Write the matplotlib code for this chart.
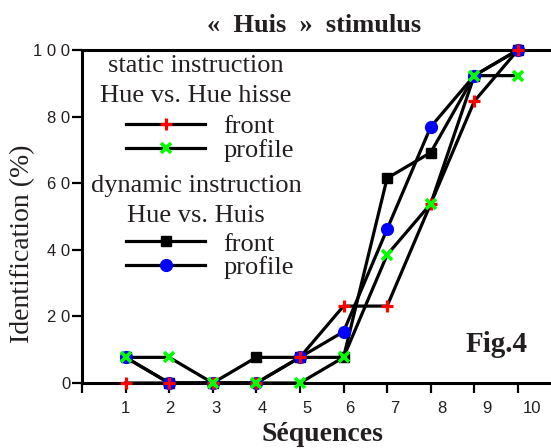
import matplotlib
matplotlib.use("Agg")
import matplotlib.pyplot as plt
from matplotlib.legend_handler import HandlerTuple
from matplotlib.transforms import ScaledTranslation

# data (identification %)
seq = [1, 2, 3, 4, 5, 6, 7, 8, 9, 10]
static_front = [0, 0, 0, 0, 7.7, 23.1, 23.1, 53.8, 84.6, 100]
static_profile = [7.7, 7.7, 0, 0, 0, 7.7, 38.5, 53.8, 92.3, 92.3]
dynamic_front = [7.7, 0, 0, 7.7, 7.7, 7.7, 61.5, 69.2, 92.3, 100]
dynamic_profile = [7.7, 0, 0, 0, 7.7, 15.4, 46.2, 76.9, 92.3, 100]

yticks = [0, 20, 40, 60, 80, 100]
ytick_labels = ["0", "2 0", "4 0", "6 0", "8 0", "1 0 0"]

serif = "Liberation Serif"
sans = "Liberation Sans"
ink = "#231f20"

fig = plt.figure(figsize=(5.51, 4.48), dpi=100)
ax = fig.add_axes([82 / 551, 1 - 383 / 448, 469 / 551, 333 / 448])

lw = 2.3
# lines first, then markers on top (black, blue, red, green)
ax.plot(seq, dynamic_front, color="k", lw=lw, zorder=2, clip_on=False)
ax.plot(seq, dynamic_profile, color="k", lw=lw, zorder=2, clip_on=False)
ax.plot(seq, static_front, color="k", lw=lw, zorder=2, clip_on=False)
ax.plot(seq, static_profile, color="k", lw=lw, zorder=2, clip_on=False)

m_df, = ax.plot(seq, dynamic_front, ls="none", marker="s", ms=7.5,
                color="k", zorder=3, clip_on=False)
m_dp, = ax.plot(seq, dynamic_profile, ls="none", marker="o", ms=8.5,
                color="#0000ff", zorder=4, clip_on=False)
m_sf, = ax.plot(seq, static_front, ls="none", marker="+", ms=9, mew=2.3,
                color="#ff0000", zorder=5, clip_on=False)
m_sp, = ax.plot(seq, static_profile, ls="none", marker="x", ms=7.5, mew=2.6,
                color="#00ff00", zorder=6, clip_on=False)

ax.set_xlim(0, 10.76)
ax.set_ylim(0, 100)

for s in ["left", "bottom", "top"]:
    ax.spines[s].set_linewidth(2.2)
ax.spines["right"].set_visible(False)

ax.set_xticks([0] + seq)
ax.set_xticklabels([""] + [str(v) for v in seq], fontfamily=sans,
                   fontsize=12, color=ink)
ax.set_yticks(yticks)
ax.set_yticklabels(ytick_labels, fontfamily=sans, fontsize=12, color=ink)
ax.tick_params(axis="both", length=7, width=1.6, direction="out")
ax.tick_params(axis="y", pad=1.5)
ax.tick_params(axis="x", pad=6)

# the x labels in the original drift a little to the right
shift_px = [0, 0, 1, 3, 6, 7, 6, 8, 11, 13, 14]
for lab, dx in zip(ax.get_xticklabels(), shift_px):
    lab.set_transform(lab.get_transform() +
                      ScaledTranslation(dx / 100, 0, fig.dpi_scale_trans))

ax.set_title("«  Huis  »  stimulus", fontfamily=serif, fontweight="bold",
             fontsize=19, color=ink, x=0.495, y=1.075, va="center", pad=0)
ax.set_xlabel("Séquences", fontfamily=serif, fontweight="bold",
              fontsize=20, color=ink, va="center")
ax.xaxis.set_label_coords(0.512, -0.155)
ax.set_ylabel("Identification (%)", fontfamily=serif, fontsize=20,
              color=ink, va="center")
ax.yaxis.set_label_coords(-0.126, 0.417)

ax.text(0.883, 0.115, "Fig.4", transform=ax.transAxes, fontfamily=serif,
        fontweight="bold", fontsize=21, color=ink, ha="center", va="center")

# legend headings
ax.text(0.243, 0.907, "static instruction\nHue vs. Hue hisse",
        transform=ax.transAxes, fontfamily=serif, fontsize=19, color=ink,
        ha="center", va="center", multialignment="center", linespacing=1.45)
ax.text(0.243, 0.547, "dynamic instruction\nHue vs. Huis",
        transform=ax.transAxes, fontfamily=serif, fontsize=19, color=ink,
        ha="center", va="center", multialignment="center", linespacing=1.45)

# legend entries: black line with the coloured marker
l_sf, = ax.plot([], [], color="k", lw=lw)
l_sp, = ax.plot([], [], color="k", lw=lw)
l_df, = ax.plot([], [], color="k", lw=lw)
l_dp, = ax.plot([], [], color="k", lw=lw)

leg_kw = dict(frameon=False, numpoints=1, handlelength=3.0,
              handletextpad=0.68, labelspacing=0.0, borderpad=0,
              borderaxespad=0, loc="upper left",
              prop={"family": serif, "size": 19},
              handler_map={tuple: HandlerTuple(ndivide=1)})

leg1 = ax.legend([(l_sf, m_sf), (l_sp, m_sp)], ["front", "profile"],
                 bbox_to_anchor=(0.094, 0.805), **leg_kw)
for t in leg1.get_texts():
    t.set_color(ink)
ax.add_artist(leg1)

leg2 = ax.legend([(l_df, m_df), (l_dp, m_dp)], ["front", "profile"],
                 bbox_to_anchor=(0.094, 0.453), **leg_kw)
for t in leg2.get_texts():
    t.set_color(ink)

fig.savefig("out.png", dpi=100)
